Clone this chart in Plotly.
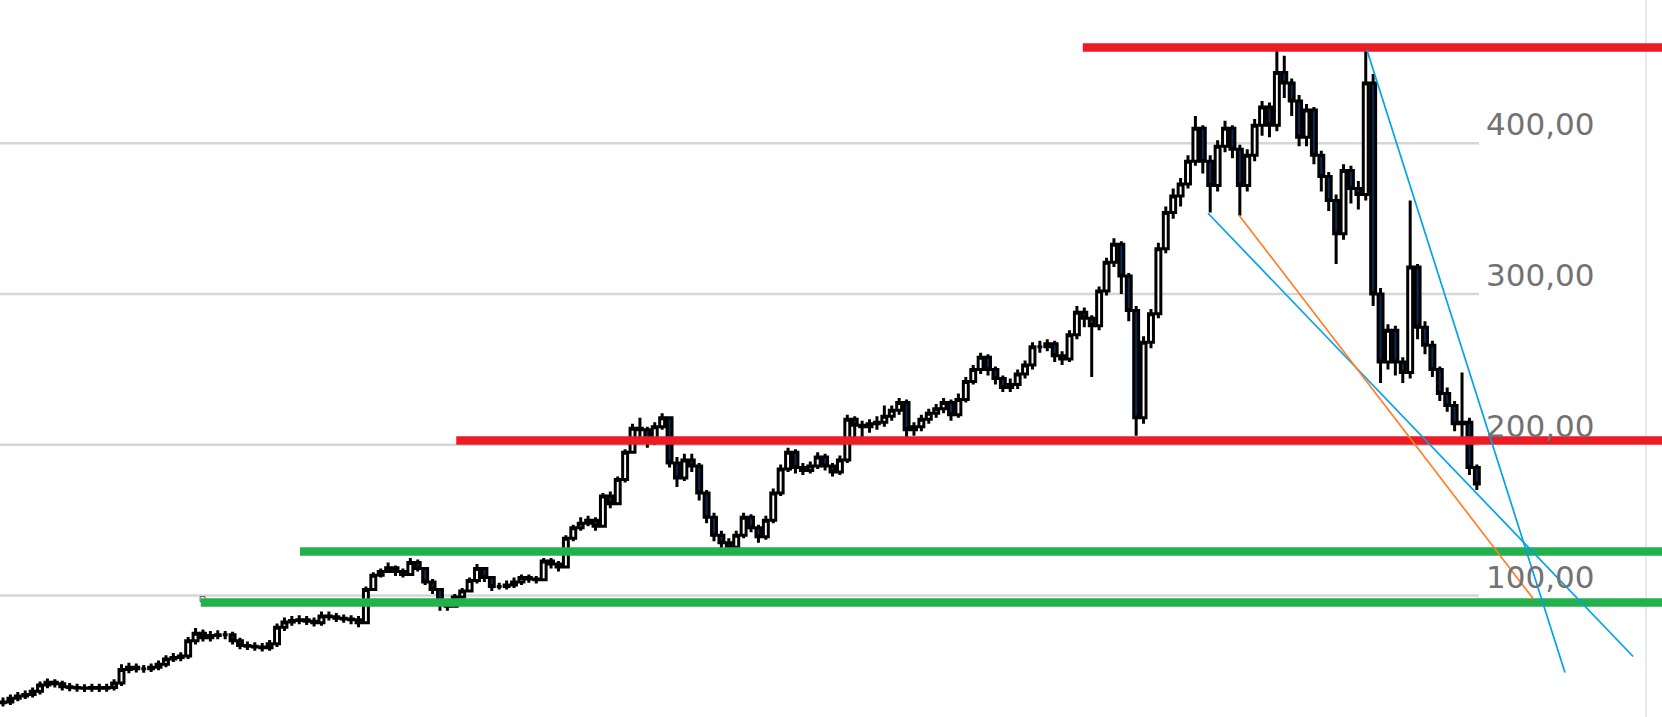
import plotly.graph_objects as go

# ---------------- data ----------------
first_open = 29.0
close = [
    29.5, 32, 33.5, 34.5, 36.5, 40.8, 42.5, 41.5, 39.5, 39,
    38.8, 38.5, 39, 38.5, 39, 42, 51, 52.5, 51.5, 51.5,
    52.5, 54.5, 58, 59, 60, 70, 75, 72, 73.5, 74,
    74, 70, 67, 66.5, 66, 65.5, 68, 79, 82.5, 83.5,
    84, 83, 82, 86.5, 86, 85, 84.5, 84, 82, 104,
    113.5, 116, 118.5, 116, 114, 122, 118, 109, 104, 95,
    93, 99, 103, 110, 118, 112, 106, 106, 107, 109,
    112, 111, 110.5, 123, 121, 119, 138, 145, 148, 150,
    146, 166, 161, 177, 195, 211, 210, 202, 212, 218,
    188, 178, 190, 186, 168, 152, 140, 135, 132, 140,
    152, 145, 139, 150, 168, 184, 195, 185, 183, 186,
    192, 186, 182, 190, 217, 213, 212, 214, 215, 219,
    223, 228, 210, 212, 217, 221, 224, 228, 220, 230,
    242, 250, 258, 250, 244, 238, 240, 247, 253, 265,
    265, 267, 259, 257, 273, 288, 284, 279, 302, 321,
    333, 312, 289, 218, 268, 287, 330, 354, 365, 373,
    388, 410, 388, 372, 398, 410, 396, 372, 392, 412,
    424, 412, 447, 440, 428, 404, 422, 392, 378, 362,
    340, 382, 370, 366, 440, 300, 255, 276, 255, 248,
    318, 278, 266, 250, 234, 226, 214, 215, 185, 174,
]
high = [
    32.5, 34.5, 36, 37, 39, 43, 45, 44.5, 43.5, 42,
    41.5, 41.3, 41.5, 41.5, 41.5, 44.5, 54.5, 55.5, 55, 54,
    55, 57, 60.5, 62, 62.5, 72.5, 78.5, 77.5, 76.5, 77,
    76.5, 76, 72, 69.5, 69, 68.5, 70.5, 81.5, 85.5, 86.5,
    87, 86.5, 85.5, 89.5, 89.5, 88.5, 87.5, 87, 86.5, 106,
    115.5, 118, 122, 120, 118, 125, 124, 119, 111, 105,
    98, 101, 105, 112, 121, 119, 113, 108.5, 110, 112,
    114, 114, 113, 125, 125, 123, 140, 147, 152, 153,
    152, 168, 169, 179, 197, 214, 218, 212, 215, 221,
    219, 192, 194, 194, 188, 170, 155, 143, 138, 143,
    155, 154, 147, 153, 171, 187, 198, 197, 188, 189,
    195, 194, 188, 193, 220, 219, 216, 217, 219, 226,
    226, 231, 230, 215, 220, 224, 227, 231, 230, 234,
    245, 253, 261, 260, 252, 246, 244, 250, 256, 268,
    269, 270, 269, 262, 276, 292, 291, 286, 305, 324,
    337, 335, 314, 292, 272, 290, 334, 358, 370, 377,
    392, 418, 412, 392, 402, 415, 412, 399, 396, 416,
    428, 427, 463, 458, 443, 432, 426, 424, 395, 381,
    366, 386, 385, 375, 463, 446, 304, 280, 279, 258,
    362, 320, 282, 269, 252, 238, 229, 248, 218, 187,
]
low = [
    26.5, 27.5, 30, 31.5, 32.5, 34.5, 38.5, 39, 37, 36.5,
    36.3, 36, 36.3, 36, 36.3, 37, 40, 48.5, 49, 48.8,
    49.3, 50.5, 52.5, 56, 56.5, 58, 67.5, 69.5, 69.5, 71,
    71, 67.5, 64.5, 64, 63.5, 63, 63.5, 66, 76.5, 80,
    81, 80.5, 79.5, 80, 83.5, 82.5, 82, 81, 79, 81.5,
    103, 112, 115, 113, 112, 113, 116, 107, 101, 90,
    90, 92, 97, 102, 108, 109, 103, 104, 104, 105,
    107, 108.5, 108, 110, 118, 116, 118, 136, 143, 146,
    143, 145, 158, 160, 175, 194, 205, 198, 200, 210,
    185, 172, 176, 182, 163, 148, 136, 130, 127, 130,
    138, 142, 135, 137, 148, 166, 182, 181, 180, 181,
    184, 183, 179, 180, 188, 205, 204, 208, 210, 212,
    216, 220, 203, 206, 209, 214, 218, 221, 216, 218,
    228, 240, 247, 246, 240, 235, 235, 237, 244, 250,
    261, 262, 255, 253, 255, 270, 278, 245, 276, 299,
    318, 300, 282, 206, 214, 264, 284, 327, 350, 358,
    370, 385, 380, 354, 368, 394, 390, 352, 368, 388,
    405, 404, 408, 430, 418, 398, 398, 386, 368, 355,
    320, 336, 360, 356, 362, 292, 241, 250, 246, 241,
    244, 270, 260, 245, 229, 222, 209, 205, 180, 170,
]

# horizontal support / resistance levels (value, first candle index, colour)
level_values = [463.5, 202.9, 129.3, 95.5]
level_starts = [145.8, 61.2, 40.1, 26.7]
level_colors = ["#ED1C24", "#ED1C24", "#22B14C", "#22B14C"]

# trend lines (start index, start value, end index, end value, colour)
trend_x0 = [184.15, 162.7, 166.9]
trend_y0 = [462.0, 353.6, 352.3]
trend_x1 = [210.9, 220.1, 206.6]
trend_y1 = [49.0, 59.6, 98.0]
trend_colors = ["#00A2E8", "#00A2E8", "#FF7F27"]

grid_values = [100, 200, 300, 400]
grid_labels = ["100,00", "200,00", "300,00", "400,00"]

# ---------------- figure ----------------
opens = [first_open] + close[:-1]
idx = list(range(len(close)))

fig = go.Figure()
fig.add_trace(go.Candlestick(
    x=idx, open=opens, high=high, low=low, close=close,
    increasing=dict(line=dict(color="#000000", width=3), fillcolor="#ffffff"),
    decreasing=dict(line=dict(color="#000000", width=3), fillcolor="#0b2a55"),
    whiskerwidth=0, hoverinfo="skip", showlegend=False,
))

# little selection handle at the start of the lower green line
fig.add_trace(go.Scatter(
    x=[level_starts[3] + 0.25], y=[level_values[3] + 2.2], mode="markers",
    marker=dict(symbol="square", size=5, color="#ffffff", line=dict(color="#555555", width=1)),
    hoverinfo="skip", showlegend=False, cliponaxis=False,
))

shapes = []
for g in grid_values:
    shapes.append(dict(type="line", xref="paper", yref="y", x0=0, x1=1479 / 1662,
                       y0=g, y1=g, line=dict(color="#d6d6d6", width=2.5), layer="below"))
shapes.append(dict(type="line", xref="paper", yref="paper", x0=1646 / 1662, x1=1646 / 1662,
                   y0=0, y1=1, line=dict(color="#e9e9e9", width=2), layer="below"))
for v, s, c in zip(level_values, level_starts, level_colors):
    shapes.append(dict(type="line", xref="x", yref="y", x0=s, x1=240, y0=v, y1=v,
                       line=dict(color=c, width=8.5), layer="above"))
for x0, y0, x1, y1, c in zip(trend_x0, trend_y0, trend_x1, trend_y1, trend_colors):
    shapes.append(dict(type="line", xref="x", yref="y", x0=x0, y0=y0, x1=x1, y1=y1,
                       line=dict(color=c, width=1.7), layer="above"))

annotations = []
for g, t in zip(grid_values, grid_labels):
    annotations.append(dict(xref="paper", yref="y", x=1484 / 1662, y=g, text=t,
                            showarrow=False, xanchor="left", yanchor="bottom", yshift=-1,
                            font=dict(family="DejaVu Sans", size=31, color="#727272")))

fig.update_layout(
    width=1662, height=717,
    margin=dict(l=0, r=0, t=0, b=0),
    paper_bgcolor="#ffffff", plot_bgcolor="#ffffff",
    shapes=shapes, annotations=annotations,
    boxgap=0.05,
    xaxis=dict(range=[-0.405, 224.0], showgrid=False, zeroline=False, showticklabels=False,
               rangeslider=dict(visible=False), showline=False, ticks=""),
    yaxis=dict(range=[19.5, 495.0], showgrid=False, zeroline=False, showticklabels=False,
               showline=False, ticks=""),
    showlegend=False,
)

fig.write_html("out.html", config={"displayModeBar": False},
               post_script="document.body.style.margin='0';document.body.style.overflow='hidden';")
